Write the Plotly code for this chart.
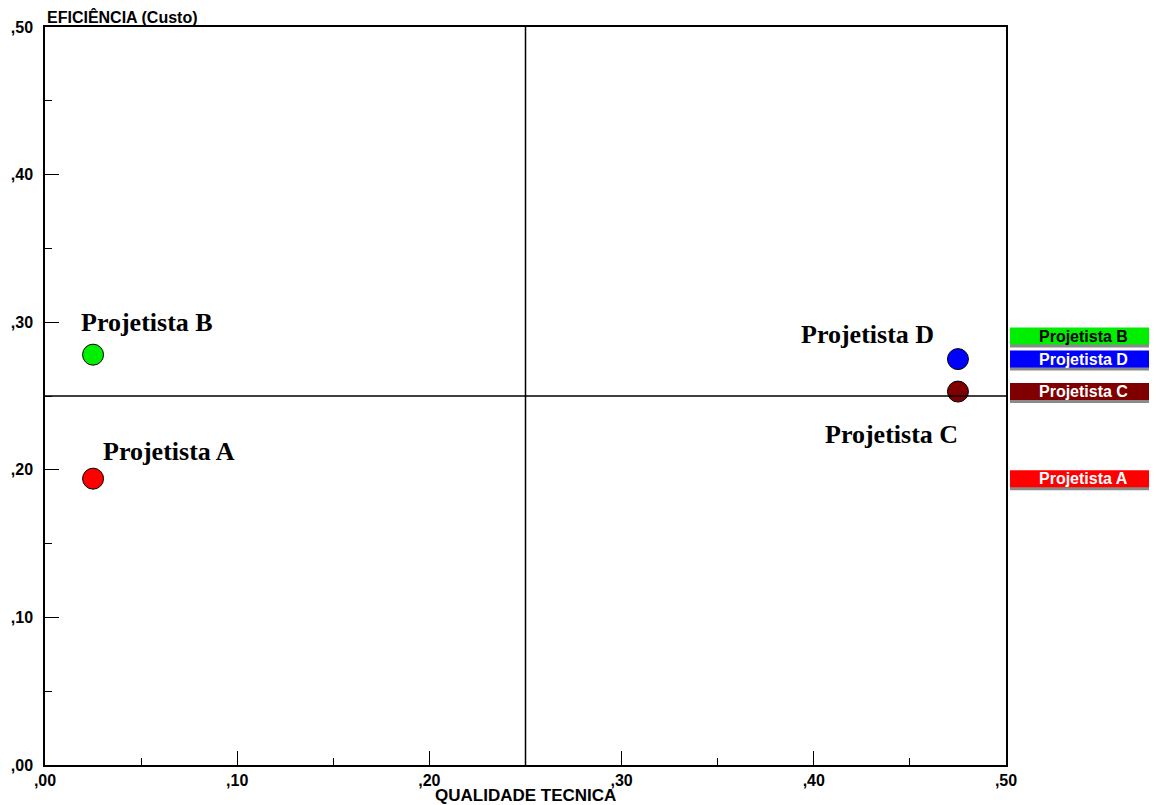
import plotly.graph_objects as go

names = ["Projetista A", "Projetista B", "Projetista C", "Projetista D"]
qualidade = [0.025, 0.025, 0.475, 0.475]
eficiencia = [0.194, 0.278, 0.253, 0.275]
colors = ["#ff0000", "#00ee00", "#800000", "#0000ff"]
legend_text_colors = ["white", "black", "white", "white"]
label_shift = {  # pixel offsets of the point labels
    "Projetista A": (76, 27),
    "Projetista B": (54, 32),
    "Projetista C": (-66, -43),
    "Projetista D": (-90, 25),
}
tick_vals = [0.0, 0.1, 0.2, 0.3, 0.4, 0.5]
tick_text = [",00", ",10", ",20", ",30", ",40", ",50"]
x_title = "QUALIDADE TECNICA"
y_title = "EFICIÊNCIA (Custo)"

# the page body adds an 8px offset; size the figure to compensate
W, H = 1149, 797
ml, mr, mt, mb = 37, 151, 19, 40
plot_w = W - ml - mr
plot_h = H - mt - mb
y_per_px = 0.5 / plot_h

fig = go.Figure()

# quadrant lines
fig.add_shape(type="line", xref="x", yref="paper", x0=0.25, x1=0.25, y0=0, y1=1,
              line=dict(color="black", width=1.5))
fig.add_shape(type="line", xref="paper", yref="y", x0=0, x1=1, y0=0.25, y1=0.25,
              line=dict(color="black", width=1.5))

for n, x, y, c in zip(names, qualidade, eficiencia, colors):
    fig.add_trace(go.Scatter(x=[x], y=[y], mode="markers", name=n,
                             marker=dict(size=21, color=c, line=dict(color="black", width=1)),
                             showlegend=False, cliponaxis=False))
    dx, dy = label_shift[n]
    fig.add_annotation(x=x, y=y, text=n, showarrow=False, xshift=dx, yshift=dy,
                       font=dict(family="Liberation Serif", size=26, color="black", weight="bold"))

# right-side legend boxes, positioned at the series values (collisions pushed apart)
order = sorted(range(len(names)), key=lambda i: eficiencia[i])
box_h = 17 * y_per_px
gap = 23 * y_per_px
pos = {}
prev = None
for i in order:
    yv = eficiencia[i]
    if prev is not None and yv < prev + gap:
        yv = prev + gap
    pos[i] = yv
    prev = yv

bx0 = (1002 - ml) / plot_w
bx1 = (W + 20 - ml) / plot_w
tx = (1075 - ml) / plot_w
for i in range(len(names)):
    yc = pos[i]
    # shadow
    fig.add_shape(type="rect", xref="paper", yref="y", x0=bx0, x1=bx1,
                  y0=yc - box_h / 2 - 3 * y_per_px, y1=yc + box_h / 2 - 2 * y_per_px,
                  fillcolor="#8a8a8a", line=dict(width=0), layer="above")
    fig.add_shape(type="rect", xref="paper", yref="y", x0=bx0, x1=bx1,
                  y0=yc - box_h / 2, y1=yc + box_h / 2,
                  fillcolor=colors[i], line=dict(width=0), layer="above")
    fig.add_annotation(xref="paper", yref="y", x=tx, y=yc, text=names[i],
                       showarrow=False, xanchor="center", yanchor="middle",
                       font=dict(family="Liberation Sans", size=16, color=legend_text_colors[i], weight="bold"))

fig.add_annotation(xref="paper", yref="paper", x=0, y=1, yshift=-1, text=y_title,
                   showarrow=False, xanchor="left", yanchor="bottom",
                   font=dict(family="Liberation Sans", size=16, color="black", weight="bold"))
fig.add_annotation(xref="paper", yref="paper", x=0.5, y=0, yshift=-30, text=x_title,
                   showarrow=False, xanchor="center", yanchor="middle",
                   font=dict(family="Liberation Sans", size=17, color="black", weight="bold"))

axis_common = dict(range=[0, 0.5], showgrid=False, zeroline=False, showline=True,
                   linecolor="black", linewidth=1.5, mirror=True, ticks="inside",
                   ticklen=14, tickwidth=1, tickcolor="black", automargin=False,
                   tickvals=tick_vals, ticktext=tick_text,
                   tickfont=dict(family="Liberation Sans", size=16, color="black", weight="bold"),
                   minor=dict(dtick=0.05, tick0=0, ticks="inside", ticklen=7, tickcolor="black", tickwidth=1))

fig.update_xaxes(**axis_common, ticklabelstandoff=0)
fig.update_yaxes(**axis_common, ticklabelstandoff=7)

fig.update_layout(width=W, height=H, margin=dict(l=ml, r=mr, t=mt, b=mb, autoexpand=False),
                  plot_bgcolor="white", paper_bgcolor="white", showlegend=False)

fig.write_html("out.html")
